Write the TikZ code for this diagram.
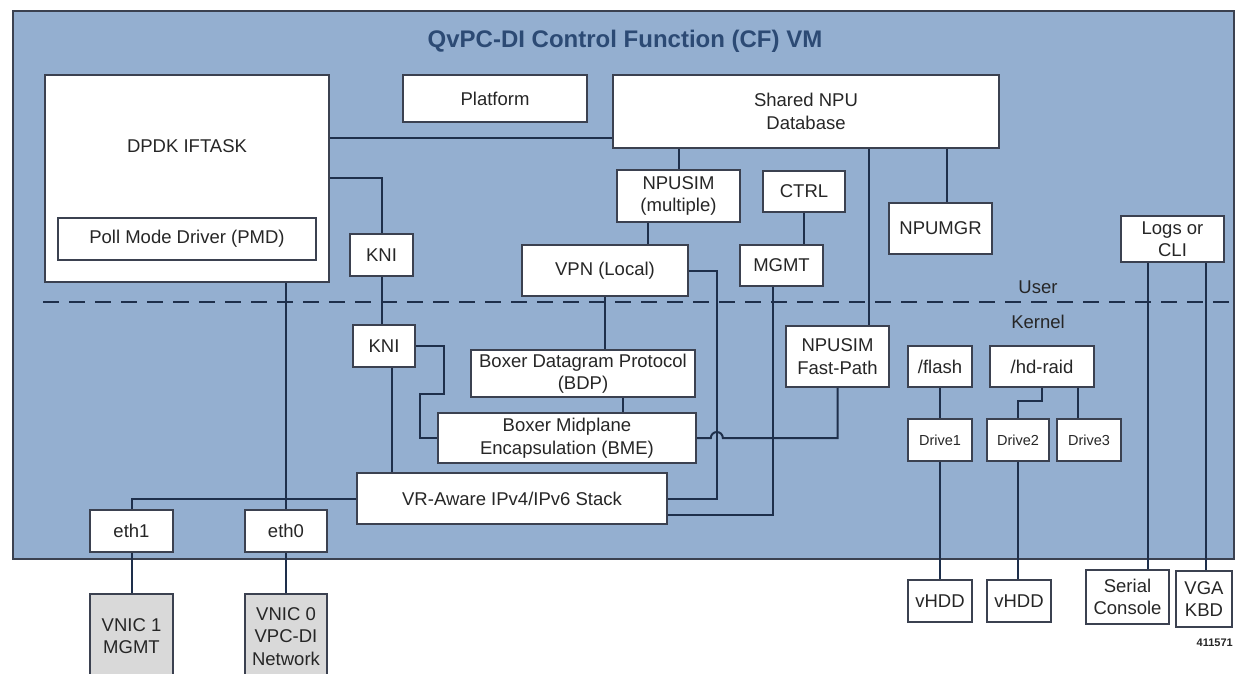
\documentclass[tikz,border=0pt]{standalone}
\usepackage{fontspec}
\setmainfont{Liberation Sans}
\usetikzlibrary{positioning}

\definecolor{vmblue}{HTML}{94AFD0}
\definecolor{linecol}{HTML}{1E2F4B}
\definecolor{boxline}{HTML}{3B4150}
\definecolor{titleblue}{HTML}{2C4A74}
\definecolor{nicgray}{HTML}{D9D9D9}
\definecolor{txt}{HTML}{262626}

\begin{document}
\begin{tikzpicture}[x=1pt, y=-1pt,
  box/.style={rectangle, draw=boxline, line width=1.7pt, fill=white, text=txt, align=center, inner sep=1pt, font=\fontsize{18.5}{22.5}\selectfont},
  smallbox/.style={box, font=\fontsize{14.5}{17}\selectfont},
  nicbox/.style={box, fill=nicgray},
  vmbox/.style={rectangle, draw=boxline, line width=1.7pt, fill=vmblue},
  layer/.style={text=txt, font=\fontsize{18.5}{22.5}\selectfont},
  link/.style={draw=linecol, line width=2pt}]

  \useasboundingbox (0,0) rectangle (1235,674);

  % Nodes
  \node (vm) [vmbox, minimum width=1221pt, minimum height=548pt] at (623.5,285) {};
  \node (title) [font=\fontsize{24}{28}\selectfont\bfseries, text=titleblue] at (625,41) {QvPC-DI Control Function (CF) VM};

  \node (dpdk) [box, minimum width=284pt, minimum height=207pt, label={[layer, yshift=32.5pt]center:DPDK IFTASK}] at (187,178.5) {};
  \node (pmd) [box, minimum width=258pt, minimum height=42pt] at (187,239) {Poll Mode Driver (PMD)};
  \node (platform) [box, minimum width=184pt, minimum height=47pt] at (495,98.5) {Platform};
  \node (shared) [box, minimum width=386pt, minimum height=73pt] at (806,111.5) {Shared NPU\\Database};
  \node (npusim) [box, minimum width=123pt, minimum height=52pt] at (678.5,196) {NPUSIM\\(multiple)};
  \node (ctrl) [box, minimum width=82pt, minimum height=41pt] at (804,191.5) {CTRL};
  \node (vpn) [box, minimum width=166pt, minimum height=51pt] at (605,270.5) {VPN (Local)};
  \node (mgmt) [box, minimum width=83pt, minimum height=41pt] at (781.5,265.5) {MGMT};
  \node (npumgr) [box, minimum width=103pt, minimum height=51pt] at (940.5,228.5) {NPUMGR};
  \node (logs) [box, minimum width=103pt, minimum height=46pt] at (1172.5,239) {Logs or\\CLI};

  \node (kniU) [box, minimum width=63pt, minimum height=42pt] at (381.5,255) {KNI};
  \node (kniL) [box, minimum width=62pt, minimum height=42pt] at (384,346) {KNI};
  \node (bdp) [box, minimum width=224pt, minimum height=47pt] at (583,373.5) {Boxer Datagram Protocol\\(BDP)};
  \node (bme) [box, minimum width=258pt, minimum height=50pt] at (567,438) {Boxer Midplane\\Encapsulation (BME)};
  \node (vr) [box, minimum width=310pt, minimum height=51pt] at (512,498.5) {VR-Aware IPv4/IPv6 Stack};
  \node (fastpath) [box, minimum width=103pt, minimum height=61pt] at (837.5,356.5) {NPUSIM\\Fast-Path};

  \node (flash) [box, minimum width=64pt, minimum height=41pt] at (940,366.5) {/flash};
  \node (hdraid) [box, minimum width=104pt, minimum height=41pt] at (1042,366.5) {/hd-raid};
  \node (drive1) [smallbox, minimum width=64pt, minimum height=42pt] at (940,440) {Drive1};
  \node (drive2) [smallbox, minimum width=62pt, minimum height=42pt] at (1018,440) {Drive2};
  \node (drive3) [smallbox, minimum width=64pt, minimum height=42pt] at (1089,440) {Drive3};

  \node (eth1) [box, minimum width=83pt, minimum height=42pt] at (131.5,531) {eth1};
  \node (eth0) [box, minimum width=82pt, minimum height=42pt] at (286,531) {eth0};
  \node (vnic1) [nicbox, minimum width=83pt, minimum height=85pt, below=40pt of eth1] {VNIC 1\\MGMT};
  \node (vnic0) [nicbox, minimum width=82pt, minimum height=85pt, below=40pt of eth0] {VNIC 0\\VPC-DI\\Network};

  \node (vhdd1) [box, minimum width=64pt, minimum height=42pt] at (940,601) {vHDD};
  \node (vhdd2) [box, minimum width=64pt, minimum height=42pt] at (1019,601) {vHDD};
  \node (serial) [box, minimum width=83pt, minimum height=54pt] at (1127.5,597) {Serial\\Console};
  \node (vga) [box, minimum width=56pt, minimum height=56pt] at (1204,599) {VGA\\KBD};

  \node (user) [layer] at (1038,287) {User};
  \node (kernel) [layer] at (1038,322) {Kernel};
  \node (fignum) [font=\fontsize{11}{13}\selectfont\bfseries, text=txt, anchor=east, inner sep=1pt] at (1234,643) {411571};

  % User / kernel border
  \draw [linecol, line width=1.8pt, dash pattern=on 16pt off 10pt] (43,302) -- (1232,302);

  % Lines
  \coordinate (dpdkTop) at ([yshift=40.5pt]dpdk.east);
  \draw [link] (dpdkTop) -- (dpdkTop -| shared.west);
  \draw [link] (dpdk.east) -| (kniU.north);
  \draw [link] (kniU.south) -- (kniU.south |- kniL.north);
  \coordinate (kniDown) at ([xshift=8pt]kniL.south);
  \draw [link] (kniDown) -- (kniDown |- vr.north);
  \draw [link] (kniL.east) -- ++(28,0) -- ++(0,48) -- ++(-24,0) |- (bme.west);
  \draw [link] (eth0.north |- dpdk.south) -- (eth0.north);
  \draw [link] (eth0.south) -- (vnic0.north);
  \draw [link] (eth1.south) -- (vnic1.north);
  \draw [link] (eth1.north) |- (vr.west);

  \draw [link] (npusim.north |- shared.south) -- (npusim.north);
  \coordinate (npuDown) at ([xshift=-30.5pt]npusim.south);
  \draw [link] (npuDown) -- (npuDown |- vpn.north);
  \draw [link] (vpn.south) -- (vpn.south |- bdp.north);
  \coordinate (bdpDown) at ([xshift=40pt]bdp.south);
  \draw [link] (bdpDown) -- (bdpDown |- bme.north);
  \draw [link] (ctrl.south) -- (ctrl.south |- mgmt.north);
  \draw [link] (vpn.east) -- ++(28,0) |- (vr.east);
  \coordinate (mgmtDown) at ([xshift=-8.5pt]mgmt.south);
  \draw [link] (mgmtDown) |- ([yshift=-16.5pt]vr.east);
  \coordinate (fpTop) at ([xshift=31.5pt]fastpath.north);
  \draw [link] (fpTop |- shared.south) -- (fpTop);
  \draw [link] (fastpath.south) |- ([xshift=26pt]bme.east) arc[start angle=0, end angle=180, radius=6pt] -- (bme.east);
  \coordinate (mgrTop) at ([xshift=6.5pt]npumgr.north);
  \draw [link] (mgrTop |- shared.south) -- (mgrTop);

  \coordinate (logA) at ([xshift=-24.5pt]logs.south);
  \draw [link] (logA) -- (logA |- serial.north);
  \coordinate (logB) at ([xshift=33.5pt]logs.south);
  \draw [link] (logB) -- (logB |- vga.north);

  \draw [link] (flash.south) -- (drive1.north);
  \draw [link] (drive1.south) -- (vhdd1.north);
  \draw [link] (hdraid.south) -- ++(0,13) -| (drive2.north);
  \coordinate (d3Top) at ([xshift=-11pt]drive3.north);
  \draw [link] (d3Top |- hdraid.south) -- (d3Top);
  \draw [link] (drive2.south) -- (drive2.south |- vhdd2.north);

\end{tikzpicture}
\end{document}
